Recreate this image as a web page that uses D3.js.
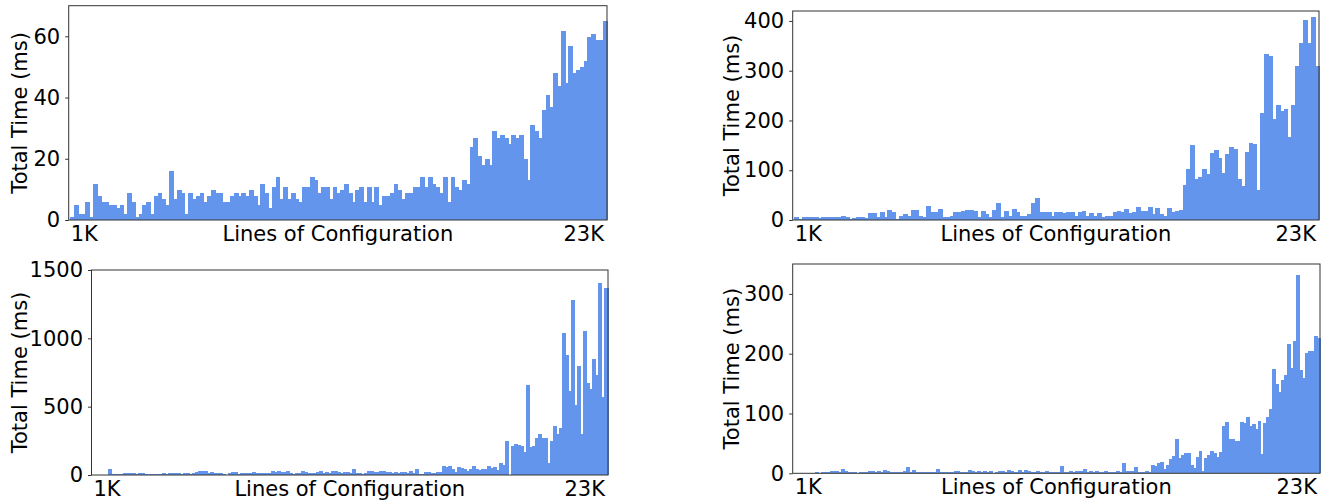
<!DOCTYPE html>
<html>
<head>
<meta charset="utf-8">
<script src="https://cdn.jsdelivr.net/npm/d3@7"></script>
<style>
  body, html { margin:0; padding:0; background:#fff; }
  svg { display:block; font-family:"DejaVu Sans", sans-serif; }
  .bar { fill:#6495ED; shape-rendering:crispEdges; }
  .spine { fill:none; stroke:#333; stroke-width:1; }
  .tick line { stroke:#333; stroke-width:1; }
  text { fill:#000; font-size:21px; }
</style>
</head>
<body>
<svg id="chart" width="1340" height="501"></svg>
<script>
// values, one bar per entry
var timesA = [1,4.9,2,2,6,1,11.7,7.8,6,6,4.9,4.9,3.9,4.9,2,8.8,6,1,2,4.9,6,2,7.8,8.8,6.8,4.9,16,6.8,9.8,8.8,
  2,8.8,6.8,7.8,8.8,6,7.8,9.8,8.8,8.8,6,6,7.8,8.8,7.8,8.8,7.8,9.8,7.8,4.9,11.7,8.8,3.9,10.8,14,6.8,10.8,6.8,8.8,6.8,
  6,10.8,10.8,14,13,8.8,10.8,10.8,6.8,10.8,8.8,9.8,11.7,8.8,5.9,9.8,10.8,5.9,10.8,5.9,10.8,4.9,7.8,7.8,8.8,11.7,9.8,6.8,8.8,8.8,
  10.8,10.8,14,10.8,14,11.7,10.8,8.8,14,5.9,14,10.8,9.8,13,11.7,23.8,26.7,20.9,17.9,19.9,17.9,29,26.7,27.7,26.7,24.8,27.7,26.7,27.7,19.9,
  13,31,29,26.7,35.9,40.8,36.8,47.9,43.7,61.6,44.7,56.7,47.9,48.9,49.9,51.8,59.7,60.7,58.7,58.7,64.9];

var timesB = [6,2,6,6,6,6,4,6,6,6,6,6,8,6,2,4,6,6,4,14,14,6,16,6,20,16,2,8,12,8,20,20,8,6,28,16,16,22,6,6,
  8,16,16,18,20,20,18,6,18,12,6,20,34,6,18,8,22,16,8,8,12,34,44,16,16,16,
  8,16,16,14,16,16,8,16,18,8,14,8,14,6,8,8,16,18,16,22,14,16,26,18,18,26,12,24,12,8,24,16,18,20,
  70,102,150,82,86,102,92,134,140,124,94,132,146,142,82,68,136,154,152,60,
  215,333,329,203,231,219,223,167,231,309,355,401,355,407,309];

var timesC = [2,2,2,2,2,44,7,7,7,7,15,15,15,15,7,15,15,7,7,7,7,7,7,15,7,15,15,15,15,7,15,15,7,15,22,29,29,29,15,22,
  15,15,15,7,0,15,22,22,7,15,15,15,15,22,15,15,15,15,15,29,22,29,22,22,29,15,7,15,15,29,22,15,15,15,22,29,15,22,15,29,
  29,22,15,22,22,
  15,44,15,15,7,15,29,29,22,22,29,29,22,22,15,22,15,22,22,15,29,15,44,7,7,22,22,15,15,22,22,
  66,59,66,44,22,59,51,44,29,44,66,44,37,44,44,66,51,59,37,88,73,249,0,212,227,220,212,168,659,205,212,
  271,300,271,271,88,249,359,300,344,1039,878,615,1281,512,798,300,1054,673,630,849,732,1405,571,1369];

var timesD = [0.5,0.5,0.5,0.5,0.5,0.5,0.5,2,0.5,2,2,2,4,4,4,2,7,4,2,2,2,0.5,2,2,2,4,4,2,4,2,5.5,4,2,2,2,2,2,4,10.5,2,
  5.5,2,2,2,2,2,2,2,7,2,2,2,2,2,4,4,2,2,2,5.5,4,2,4,2,4,2,4,0.5,2,4,4,2,5.5,4,2,2,5.5,2,5.5,4,2,2,4,2,2,4,2,
  2,2,2,12,2,2,4,2,4,4,4,7,2,4,2,4,2,2,4,2,2,2,4,2,17,4,4,4,10.5,2,2,2,4,2,14,12,17,19,7,14,24,29,57,26,31,34,34,14,9,
  27,37,4,26,31,37,34,27,36,79,86,57,57,54,54,86,84,94,79,82,74,87,32,84,94,107,174,149,136,156,164,216,176,221,331,172,159,
  201,204,204,229,226];

var ticksA = [0, 20, 40, 60];
var ticksB = [0, 100, 200, 300, 400];
var ticksC = [0, 500, 1000, 1500];
var ticksD = [0, 100, 200, 300];

var xTickLabels = ["1K", "23K"];
var xLabel = "Lines of Configuration";
var yLabel = "Total Time (ms)";

// panel placement
var panels = [
  {data: timesA, ticks: ticksA, ymax: 70,   left: 68.7,  right: 607,  top: 5.7, bottom: 220,   ylab: 27},
  {data: timesB, ticks: ticksB, ymax: 420,  left: 792.7, right: 1319, top: 11,  bottom: 220,   ylab: 738.6},
  {data: timesC, ticks: ticksC, ymax: 1500, left: 91.5,  right: 608,  top: 270, bottom: 475,   ylab: 27},
  {data: timesD, ticks: ticksD, ymax: 350,  left: 792.7, right: 1320, top: 264, bottom: 473.3, ylab: 738.6}
];

var svg = d3.select("#chart");

panels.forEach(function(p){
  var g = svg.append("g");
  var x = d3.scaleBand().domain(d3.range(p.data.length)).range([p.left + 1.5, p.right - 0.5]).padding(0);
  var y = d3.scaleLinear().domain([0, p.ymax]).range([p.bottom, p.top]);

  g.selectAll("rect.bar")
   .data(p.data)
   .enter()
   .append("rect")
   .attr("class", "bar")
   .attr("x", function(d, i){ return x(i); })
   .attr("width", x.bandwidth() + 1)
   .attr("y", function(d){ return y(d); })
   .attr("height", function(d){ return p.bottom - y(d); });

  var yAxis = d3.axisLeft(y).tickValues(p.ticks).tickSize(3.5).tickPadding(5).tickFormat(d3.format("d"));
  var ax = g.append("g").attr("transform", "translate(" + p.left + ",0)").call(yAxis);
  ax.select(".domain").remove();
  ax.selectAll("text").attr("font-size", 21).attr("font-family", "DejaVu Sans").attr("fill", "#000");

  g.append("rect").attr("class", "spine")
   .attr("x", p.left).attr("y", p.top)
   .attr("width", p.right - p.left).attr("height", p.bottom - p.top);

  g.append("text").attr("x", p.left + 2).attr("y", p.bottom + 21).text(xTickLabels[0]);
  g.append("text").attr("x", p.right - 3).attr("y", p.bottom + 21).attr("text-anchor", "end").text(xTickLabels[1]);
  g.append("text").attr("x", (p.left + p.right) / 2).attr("y", p.bottom + 21).attr("text-anchor", "middle").text(xLabel);

  g.append("text")
   .attr("transform", "translate(" + p.ylab + "," + ((p.top + p.bottom) / 2) + ") rotate(-90)")
   .attr("text-anchor", "middle")
   .text(yLabel);
});
</script>
</body>
</html>
